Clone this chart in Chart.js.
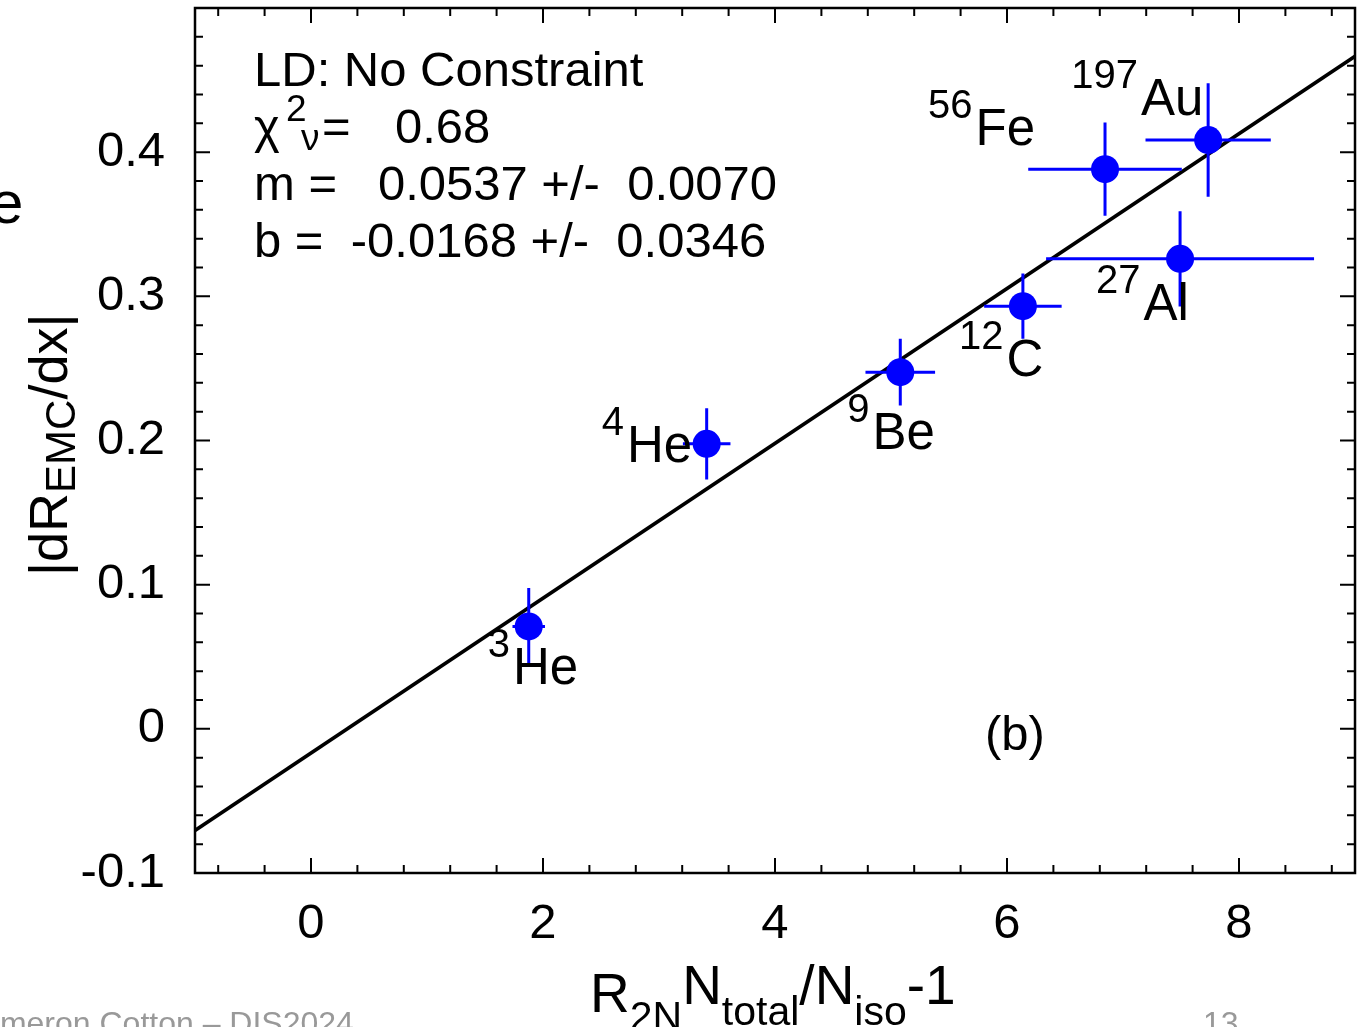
<!DOCTYPE html>
<html><head><meta charset="utf-8">
<script src="https://cdn.jsdelivr.net/npm/chart.js@4.4.1/dist/chart.umd.min.js"></script>
<style>html,body{margin:0;padding:0;background:#fff;overflow:hidden}</style>
</head><body>
<canvas id="c" width="1365" height="1027"></canvas>
<script>
// ---------------- data ----------------
const nuclei       = ['3He', '4He', '9Be', '12C', '56Fe', '27Al', '197Au'];
const massNumbers  = ['3', '4', '9', '12', '56', '27', '197'];
const symbols      = ['He', 'He', 'Be', 'C', 'Fe', 'Al', 'Au'];
const xValues      = [1.877, 3.411, 5.080, 6.137, 6.845, 7.492, 7.734];
const xErrors      = [0.14, 0.205, 0.30, 0.334, 0.662, 1.155, 0.54];
const yValues      = [0.0710, 0.1977, 0.2474, 0.2932, 0.3882, 0.3260, 0.4084];
const yErrors      = [0.0267, 0.0247, 0.0232, 0.0226, 0.0323, 0.0330, 0.0394];
const fitSlope = 0.0537, fitSlopeErr = 0.0070;
const fitIntercept = -0.0168, fitInterceptErr = 0.0346;
const chi2nu = 0.68;
const xTicks = [0, 2, 4, 6, 8];
const yTicks = [-0.1, 0, 0.1, 0.2, 0.3, 0.4];
const xRange = [-1, 9];
const yRange = [-0.1, 0.5];
const xMinorStep = 0.4;
const yMinorStep = 0.02;

// ---------------- layout / style ----------------
const FONT = "'Liberation Sans', Arial, Helvetica, sans-serif";
const BLUE = '#0000ff';
// label placement relative to each point (pixels): [dx of superscript start, dy of main baseline]
const labelOffsets = [[-41, 58], [-105, 18], [-53, 77], [-64, 70], [-177, -24], [-84, 61], [-137, -25]];

function font(size){ return size + 'px ' + FONT; }
function rich(ctx, x, y, segs){
  let cx = x;
  for (const s of segs){
    ctx.font = font(s.size);
    ctx.fillText(s.t, cx + (s.dx||0), y + (s.dy||0));
    cx += (s.dx||0) + ctx.measureText(s.t).width;
  }
  return cx;
}

const deco = {
  id: 'deco',
  beforeDatasetDraw(chart, args){
    if (args.index !== 0) return;
    const ctx = chart.ctx, xs = chart.scales.x, ys = chart.scales.y;
    ctx.save();
    ctx.strokeStyle = BLUE; ctx.lineWidth = 3; ctx.lineCap = 'butt';
    xValues.forEach((x, i) => {
      const px = xs.getPixelForValue(x), py = ys.getPixelForValue(yValues[i]);
      ctx.beginPath();
      ctx.moveTo(xs.getPixelForValue(x - xErrors[i]), py);
      ctx.lineTo(xs.getPixelForValue(x + xErrors[i]), py);
      ctx.moveTo(px, ys.getPixelForValue(yValues[i] - yErrors[i]));
      ctx.lineTo(px, ys.getPixelForValue(yValues[i] + yErrors[i]));
      ctx.stroke();
    });
    ctx.restore();
  },
  afterDraw(chart){
    const ctx = chart.ctx, xs = chart.scales.x, ys = chart.scales.y, a = chart.chartArea;
    ctx.save();
    // inward ticks (all four sides)
    ctx.strokeStyle = '#000'; ctx.lineWidth = 2;
    const eps = 1e-6;
    const xMin = Math.ceil((xRange[0] - eps) / xMinorStep), xMax = Math.floor((xRange[1] + eps) / xMinorStep);
    for (let k = xMin; k <= xMax; k++){
      const v = k * xMinorStep;
      const major = xTicks.some(t => Math.abs(t - v) < eps);
      const len = major ? 15 : 8;
      const p = xs.getPixelForValue(v);
      if (p <= a.left + 1 || p >= a.right - 1) continue;
      ctx.beginPath();
      ctx.moveTo(p, a.bottom); ctx.lineTo(p, a.bottom - len);
      ctx.moveTo(p, a.top); ctx.lineTo(p, a.top + len);
      ctx.stroke();
    }
    const yMin = Math.ceil((yRange[0] - eps) / yMinorStep), yMax = Math.floor((yRange[1] + eps) / yMinorStep);
    for (let k = yMin; k <= yMax; k++){
      const v = k * yMinorStep;
      const major = yTicks.some(t => Math.abs(t - v) < eps);
      const len = major ? 15 : 8;
      const p = ys.getPixelForValue(v);
      if (p <= a.top + 1 || p >= a.bottom - 1) continue;
      ctx.beginPath();
      ctx.moveTo(a.left, p); ctx.lineTo(a.left + len, p);
      ctx.moveTo(a.right, p); ctx.lineTo(a.right - len, p);
      ctx.stroke();
    }
    // frame
    ctx.lineWidth = 2.5;
    ctx.strokeRect(a.left, a.top, a.right - a.left, a.bottom - a.top);

    ctx.fillStyle = '#000';
    ctx.textBaseline = 'alphabetic';
    ctx.textAlign = 'left';
    // nuclide labels
    xValues.forEach((x, i) => {
      const px = xs.getPixelForValue(x), py = ys.getPixelForValue(yValues[i]);
      const [dx, dy] = labelOffsets[i];
      ctx.font = font(40);
      ctx.fillText(massNumbers[i], px + dx, py + dy - 27);
      const w = ctx.measureText(massNumbers[i]).width;
      ctx.font = font(51);
      ctx.fillText(symbols[i], px + dx + w + 3, py + dy);
    });
    // fit summary text block
    const tx = a.left + 59, t0 = a.top + 78, lh = 57;
    ctx.font = font(49);
    ctx.fillText('LD: No Constraint', tx, t0);
    ctx.fillText('\u03C7', tx, t0 + lh);
    ctx.font = font(37);
    ctx.fillText('2', tx + 32, t0 + lh - 22);
    ctx.fillText('\u03BD', tx + 47, t0 + lh + 7);
    ctx.font = font(49);
    ctx.fillText('=', tx + 68, t0 + lh);
    ctx.fillText(chi2nu.toFixed(2), tx + 141, t0 + lh);
    ctx.fillText('m =   ' + fitSlope.toFixed(4) + ' +/-  ' + fitSlopeErr.toFixed(4), tx, t0 + 2*lh);
    ctx.fillText('b =  ' + fitIntercept.toFixed(4) + ' +/-  ' + fitInterceptErr.toFixed(4), tx, t0 + 3*lh);
    // panel tag
    ctx.fillText('(b)', xs.getPixelForValue(5.81), ys.getPixelForValue(-0.0145));

    // axis titles
    rich(ctx, 590, 1012, [
      {t:'R', size:55}, {t:'2N', size:41, dy:18}, {t:'N', size:55, dy:-8},
      {t:'total', size:41, dy:13}, {t:'/', size:55, dy:-8}, {t:'N', size:55, dy:-8},
      {t:'iso', size:41, dy:13}, {t:'-1', size:55, dy:-8}
    ]);
    ctx.save();
    ctx.translate(67, 576);
    ctx.rotate(-Math.PI/2);
    rich(ctx, 0, 0, [{t:'|dR', size:54}, {t:'EMC', size:42, dy:8}, {t:'/dx|', size:54}]);
    ctx.restore();

    // slide remnants around the figure
    ctx.fillStyle = '#000';
    ctx.font = font(60);
    ctx.fillText('e', -10, 223);
    ctx.fillStyle = '#999';
    ctx.font = font(32);
    ctx.fillText('Cameron Cotton \u2013 DIS2024', -41, 1034);
    ctx.fillText('13', 1203, 1034);
    ctx.restore();
  }
};

Chart.defaults.font.family = FONT;
new Chart(document.getElementById('c'), {
  type: 'scatter',
  data: {
    datasets: [
      { label: 'data', data: xValues.map((x, i) => ({x, y: yValues[i]})),
        pointRadius: 14, pointHoverRadius: 14, backgroundColor: BLUE, borderWidth: 0, order: 0 },
      { type: 'line', label: 'fit', data: xRange.map(x => ({x, y: fitSlope * x + fitIntercept})),
        borderColor: '#000', borderWidth: 3.5, pointRadius: 0, fill: false, showLine: true, order: 1 }
    ]
  },
  options: {
    responsive: false, animation: false, events: [],
    layout: { autoPadding: false, padding: { left: 0, right: 10, top: 8, bottom: 0 } },
    plugins: { legend: { display: false }, tooltip: { enabled: false } },
    scales: {
      x: {
        type: 'linear', min: xRange[0], max: xRange[1],
        afterBuildTicks: s => { s.ticks = xTicks.map(v => ({value: v})); },
        afterFit: s => { s.height = 154; s.paddingLeft = 0; s.paddingRight = 0; },
        grid: { display: false, drawTicks: false }, border: { display: false },
        ticks: { font: { size: 49 }, color: '#000', padding: 22, maxRotation: 0, autoSkip: false,
                 callback: v => String(v) }
      },
      y: {
        type: 'linear', min: yRange[0], max: yRange[1],
        afterBuildTicks: s => { s.ticks = yTicks.map(v => ({value: v})); },
        afterFit: s => { s.width = 195; s.paddingTop = 0; s.paddingBottom = 0; },
        grid: { display: false, drawTicks: false }, border: { display: false },
        ticks: { font: { size: 49 }, color: '#000', padding: 30, autoSkip: false,
                 callback: v => (Math.abs(v) < 1e-9 ? '0' : v.toFixed(1)) }
      }
    }
  },
  plugins: [deco]
});
</script>
</body></html>
